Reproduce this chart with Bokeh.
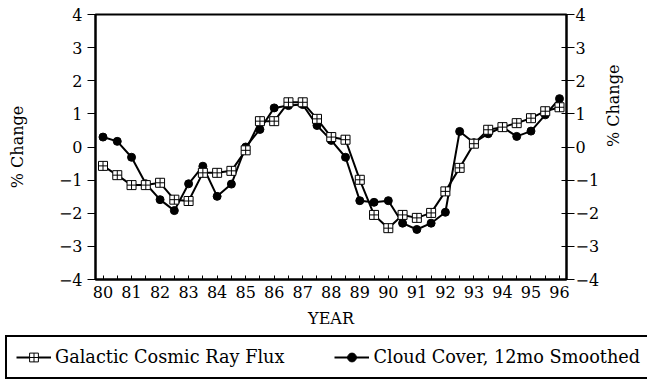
import math
from bokeh.plotting import figure
from bokeh.models import LinearAxis, FixedTicker, Range1d, Legend, LegendItem
from bokeh.embed import file_html
from bokeh.resources import INLINE

years = [80.0, 80.5, 81.0, 81.5, 82.0, 82.5, 83.0, 83.5, 84.0, 84.5, 85.0, 85.5,
         86.0, 86.5, 87.0, 87.5, 88.0, 88.5, 89.0, 89.5, 90.0, 90.5, 91.0, 91.5,
         92.0, 92.5, 93.0, 93.5, 94.0, 94.5, 95.0, 95.5, 96.0]

cosmic_ray_flux = [-0.57, -0.85, -1.15, -1.15, -1.08, -1.59, -1.63, -0.78, -0.78, -0.72, -0.10, 0.78,
                   0.78, 1.35, 1.35, 0.85, 0.30, 0.22, -0.99, -2.05, -2.45, -2.05, -2.14, -1.99,
                   -1.34, -0.63, 0.10, 0.52, 0.60, 0.72, 0.87, 1.08, 1.20]

cloud_cover = [0.30, 0.17, -0.31, -1.11, -1.59, -1.92, -1.11, -0.58, -1.49, -1.12, 0.00, 0.53,
               1.18, 1.25, 1.28, 0.65, 0.20, -0.31, -1.62, -1.67, -1.62, -2.30, -2.49, -2.30,
               -1.97, 0.47, 0.13, 0.40, 0.60, 0.32, 0.48, 0.97, 1.46]

series_names = ["Galactic Cosmic Ray Flux", "Cloud Cover, 12mo Smoothed"]

year_ticks = [80, 81, 82, 83, 84, 85, 86, 87, 88, 89, 90, 91, 92, 93, 94, 95, 96]
half_year_ticks = [80.5, 81.5, 82.5, 83.5, 84.5, 85.5, 86.5, 87.5, 88.5, 89.5, 90.5,
                   91.5, 92.5, 93.5, 94.5, 95.5]
y_ticks = [-4, -3, -2, -1, 0, 1, 2, 3, 4]

FONT = "DejaVu Serif"

# ---------------- main chart ----------------
p = figure(width=647, height=333,
           output_backend="svg", toolbar_location=None,
           x_range=Range1d(79.737, 96.245), y_range=Range1d(-4, 4),
           min_border_left=95, min_border_right=81, min_border_top=14, min_border_bottom=54,
           x_axis_label="YEAR", y_axis_label="% Change")

p.xgrid.visible = False
p.ygrid.visible = False
p.outline_line_color = "black"
p.outline_line_width = 2
p.outline_line_alpha = 1
p.background_fill_color = "white"
p.border_fill_color = "white"

xa = p.xaxis[0]
xa.ticker = FixedTicker(ticks=year_ticks, minor_ticks=half_year_ticks)
xa.major_tick_in = 4
xa.major_tick_out = 0
xa.minor_tick_in = 4
xa.minor_tick_out = 0
xa.major_label_standoff = 6
xa.axis_label_standoff = 8

ya = p.yaxis[0]
ya.ticker = FixedTicker(ticks=y_ticks)
ya.major_tick_in = 0
ya.major_tick_out = 8
ya.minor_tick_in = 0
ya.minor_tick_out = 0
ya.major_label_standoff = 5
ya.axis_label_standoff = 29

ra = LinearAxis(axis_label="% Change", ticker=FixedTicker(ticks=y_ticks))
ra.major_tick_in = 5
ra.major_tick_out = 8
ra.minor_tick_in = 0
ra.minor_tick_out = 0
ra.major_label_standoff = 1
ra.axis_label_standoff = 11
if "axis_label_orientation" in ra.properties():
    ra.axis_label_orientation = math.pi / 2
p.add_layout(ra, "right")

for ax in [xa, ya, ra]:
    ax.axis_line_width = 2
    ax.axis_line_color = "black"
    ax.major_tick_line_color = "black"
    ax.minor_tick_line_color = "black"
    ax.major_tick_line_width = 1
    ax.major_label_text_font = FONT
    ax.major_label_text_font_size = "16px"
    ax.major_label_text_color = "black"
    ax.axis_label_text_font = FONT
    ax.axis_label_text_font_size = "16px"
    ax.axis_label_text_font_style = "normal"
    ax.axis_label_text_color = "black"

p.line(years, cloud_cover, line_color="black", line_width=2)
p.scatter(years, cloud_cover, marker="circle", size=8,
          fill_color="black", line_color="black")
p.line(years, cosmic_ray_flux, line_color="black", line_width=2)
p.scatter(years, cosmic_ray_flux, marker="square_cross", size=9,
          fill_color="white", line_color="black", line_width=1)

# ---------------- legend strip (separate root, full-width frame) ----------------
# same series drawn here outside the visible range, only so the legend has glyphs
lp = figure(width=647, height=47, output_backend="svg", toolbar_location=None,
            x_range=Range1d(0, 1), y_range=Range1d(0, 1),
            x_axis_location=None, y_axis_location=None,
            min_border_left=0, min_border_right=0, min_border_top=0, min_border_bottom=0)
lp.title.visible = False
lp.xgrid.visible = False
lp.ygrid.visible = False
lp.outline_line_color = None
lp.background_fill_color = "white"
lp.border_fill_color = "white"

g_line = lp.line(years, cosmic_ray_flux, line_color="black", line_width=2)
g_pts = lp.scatter(years, cosmic_ray_flux, marker="square_cross", size=9,
                   fill_color="white", line_color="black", line_width=1)
c_line = lp.line(years, cloud_cover, line_color="black", line_width=2)
c_pts = lp.scatter(years, cloud_cover, marker="circle", size=8,
                   fill_color="black", line_color="black")

legend = Legend(items=[
    LegendItem(label=series_names[0], renderers=[g_line, g_pts]),
    LegendItem(label=series_names[1], renderers=[c_line, c_pts]),
], orientation="horizontal", location=(5, 1))
legend.label_text_font = FONT
legend.label_text_font_size = "17.7px"
legend.label_text_color = "black"
legend.glyph_width = 35
legend.glyph_height = 22
legend.label_standoff = 4
legend.spacing = 50
legend.padding = 9
legend.margin = 0
legend.border_line_color = "black"
legend.border_line_width = 2
legend.border_line_alpha = 1
legend.background_fill_alpha = 1
lp.add_layout(legend, "center")

open("out.html", "w").write(file_html([p, lp], INLINE))
